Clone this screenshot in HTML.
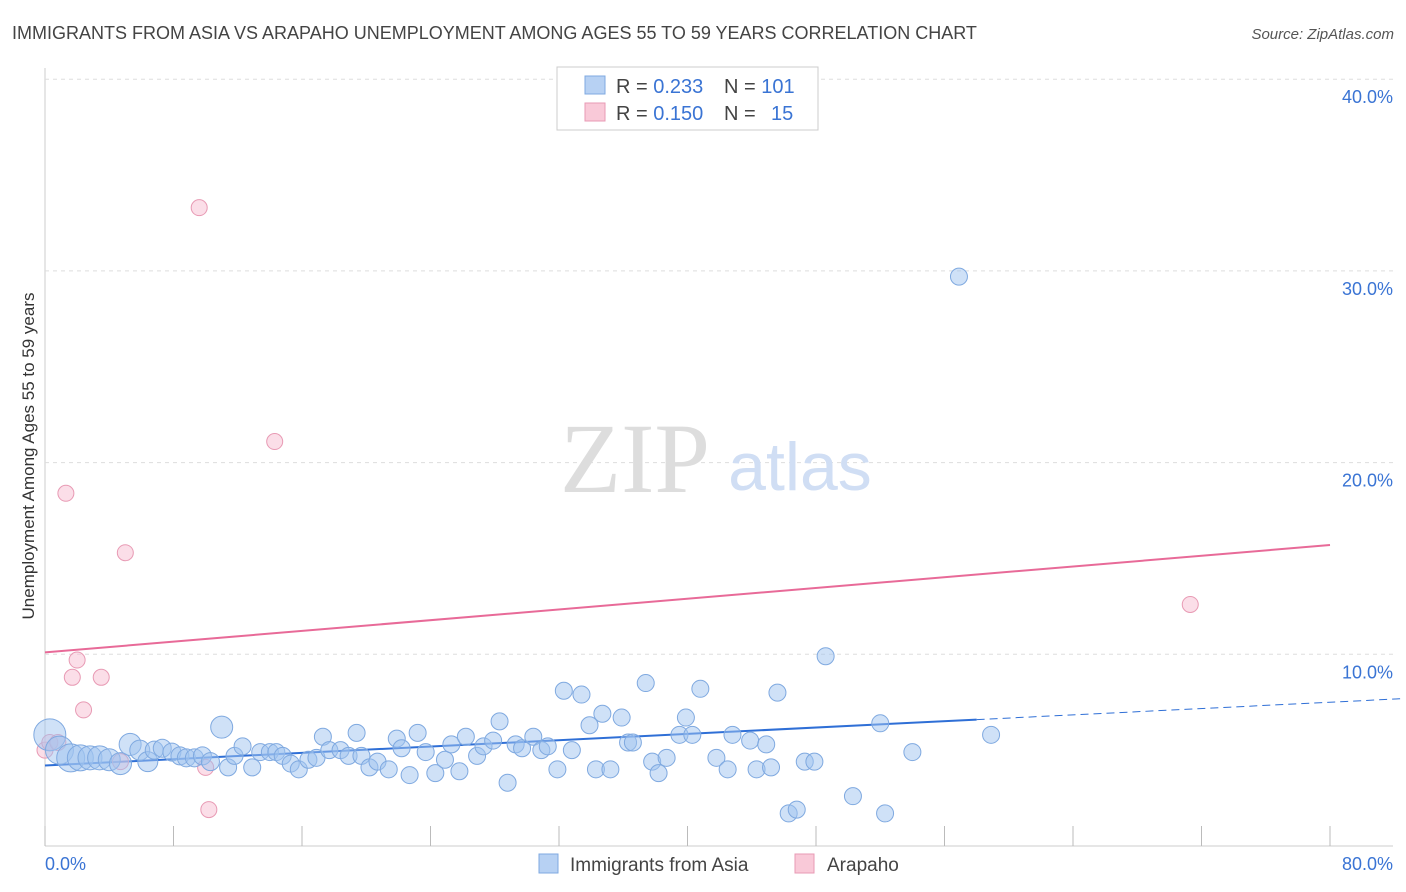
<!DOCTYPE html>
<html><head><meta charset="utf-8"><style>
body{margin:0;background:#fff;font-family:"Liberation Sans",sans-serif;}
svg{display:block}
</style></head><body>
<svg id="chart" width="1406" height="892">
<text x="12" y="39" font-size="18" fill="#444">IMMIGRANTS FROM ASIA VS ARAPAHO UNEMPLOYMENT AMONG AGES 55 TO 59 YEARS CORRELATION CHART</text>
<text x="1394" y="39" font-size="15" fill="#555" font-style="italic" text-anchor="end">Source: ZipAtlas.com</text>
<g id="grid"></g>
<text x="635" y="492" font-size="100" fill="#ddd" font-family="Liberation Serif,serif" text-anchor="middle">ZIP</text>
<text x="800" y="490" font-size="68" fill="#d0def4" text-anchor="middle">atlas</text>
<g id="lines"></g>
<g id="points"></g>
<text transform="translate(34,456) rotate(-90)" font-size="17" fill="#333" text-anchor="middle">Unemployment Among Ages 55 to 59 years</text>
<text x="45" y="870" font-size="18" fill="#3a74d4">0.0%</text>
<text x="1393" y="870" font-size="18" fill="#3a74d4" text-anchor="end">80.0%</text>
<g>
<rect x="557" y="67" width="261" height="63" fill="#fff" stroke="#ccc"/>
<rect x="585" y="76" width="20" height="18" fill="#b7d1f3" stroke="#7fa9e0"/>
<rect x="585" y="103" width="20" height="18" fill="#f9c9d8" stroke="#e89ab4"/>
<text x="616" y="93" font-size="20" fill="#444">R = <tspan fill="#3a74d4">0.233</tspan><tspan x="724">N = </tspan><tspan fill="#3a74d4">101</tspan></text>
<text x="616" y="120" font-size="20" fill="#444">R = <tspan fill="#3a74d4">0.150</tspan><tspan x="724">N = </tspan><tspan x="771" fill="#3a74d4">15</tspan></text>
</g>
<g>
<rect x="539" y="854" width="19" height="19" fill="#b7d1f3" stroke="#7fa9e0"/>
<text x="570" y="871" font-size="19" fill="#444">Immigrants from Asia</text>
<rect x="795" y="854" width="19" height="19" fill="#f9c9d8" stroke="#e89ab4"/>
<text x="827" y="871" font-size="19" fill="#444">Arapaho</text>
</g>
</svg>
<script>
const yTicks=[10,20,30,40];
const yTickLabels=["10.0%","20.0%","30.0%","40.0%"];
const xTicks=[0,8,16,24,32,40,48,56,64,72,80];
const blueX=[0.3,0.9,1.6,2.2,2.8,3.4,4.0,4.7,5.3,5.9,6.4,6.8,7.3,7.9,8.4,8.8,9.3,9.8,10.3,11.0,11.4,11.8,12.3,12.9,13.4,14.0,14.4,14.8,15.3,15.8,16.4,16.9,17.3,17.7,18.4,18.9,19.4,19.7,20.2,20.7,21.4,21.9,22.2,22.7,23.2,23.7,24.3,24.9,25.3,25.8,26.2,26.9,27.3,27.9,28.3,28.8,29.3,29.7,30.4,30.9,31.3,31.9,32.3,32.8,33.4,33.9,34.3,34.7,35.2,35.9,36.3,36.6,37.4,37.8,38.2,38.7,39.5,39.9,40.3,40.8,41.8,42.5,42.8,43.9,44.3,44.9,45.2,45.6,46.3,46.8,47.3,47.9,48.6,50.3,52.0,52.3,54.0,56.9,58.9];
const blueY=[5.8,5.0,4.6,4.6,4.6,4.6,4.5,4.3,5.3,5.0,4.4,5.0,5.1,4.9,4.7,4.6,4.6,4.7,4.4,6.2,4.1,4.7,5.2,4.1,4.9,4.9,4.9,4.7,4.3,4.0,4.5,4.6,5.7,5.0,5.0,4.7,5.9,4.7,4.1,4.4,4.0,5.6,5.1,3.7,5.9,4.9,3.8,4.5,5.3,3.9,5.7,4.7,5.2,5.5,6.5,3.3,5.3,5.1,5.7,5.0,5.2,4.0,8.1,5.0,7.9,6.3,4.0,6.9,4.0,6.7,5.4,5.4,8.5,4.4,3.8,4.6,5.8,6.7,5.8,8.2,4.6,4.0,5.8,5.5,4.0,5.3,4.1,8.0,1.7,1.9,4.4,4.4,9.9,2.6,6.4,1.7,4.9,29.7,5.8];
const blueSize=[16,14,14,13,12,12,11,11,11,10,10,9,9,9,9,9,9,9,9,11,8.5,8.5,8.5,8.5,8.5,8.5,8.5,8.5,8.5,8.5,8.5,8.5,8.5,8.5,8.5,8.5,8.5,8.5,8.5,8.5,8.5,8.5,8.5,8.5,8.5,8.5,8.5,8.5,8.5,8.5,8.5,8.5,8.5,8.5,8.5,8.5,8.5,8.5,8.5,8.5,8.5,8.5,8.5,8.5,8.5,8.5,8.5,8.5,8.5,8.5,8.5,8.5,8.5,8.5,8.5,8.5,8.5,8.5,8.5,8.5,8.5,8.5,8.5,8.5,8.5,8.5,8.5,8.5,8.5,8.5,8.5,8.5,8.5,8.5,8.5,8.5,8.5,8.5,8.5];
const pinkX=[0.0,0.3,0.8,1.3,1.7,2.0,2.4,3.5,4.7,5.0,9.6,10.0,10.2,14.3,71.3];
const pinkY=[5.0,5.4,5.4,18.4,8.8,9.7,7.1,8.8,4.4,15.3,33.3,4.1,1.9,21.1,12.6];
const blueFit=[4.2,7.5], blueSolidEnd=58, pinkFit=[10.1,15.7];
const NS="http://www.w3.org/2000/svg";
const X=v=>45+v/80*1285, Y=v=>846-v*19.17;
function mk(t,a,p){const e=document.createElementNS(NS,t);for(const k in a)e.setAttribute(k,a[k]);p.appendChild(e);return e;}
const grid=document.getElementById('grid');
mk('line',{x1:45,y1:68,x2:45,y2:846,stroke:'#ccc'},grid);
mk('line',{x1:45,y1:846,x2:1393,y2:846,stroke:'#ccc'},grid);
yTicks.forEach((t,i)=>{
 const l=mk('line',{x1:45,y1:Y(t),x2:1393,y2:Y(t),stroke:'#ddd','stroke-dasharray':'4,4'},grid);
 
 
 const tx=mk('text',{x:1393,y:Y(t)+24,'font-size':18,fill:'#3a74d4','text-anchor':'end'},grid);
 tx.textContent=yTickLabels[i];
 
 
});
xTicks.forEach(t=>{
 const l=mk('line',{x1:X(t),y1:826,x2:X(t),y2:846,stroke:'#bbb'},grid);
 
 
});
const pts=document.getElementById('points');
pinkX.forEach((x,i)=>{
 const c=mk('circle',{cx:X(x),cy:Y(pinkY[i]),r:8,fill:'rgba(248,190,210,0.5)',stroke:'#e89ab4','stroke-width':1},pts);
 
 
});
blueX.forEach((x,i)=>{
 const c=mk('circle',{cx:X(x),cy:Y(blueY[i]),r:blueSize[i],fill:'rgba(160,196,240,0.5)',stroke:'#7fa9e0','stroke-width':1},pts);
 
 
});
const ln=document.getElementById('lines');
const fb=x=>blueFit[0]+(blueFit[1]-blueFit[0])*x/80;
let a=mk('line',{x1:X(0),y1:Y(fb(0)),x2:X(blueSolidEnd),y2:Y(fb(blueSolidEnd)),stroke:'#2f6fd6','stroke-width':2},ln);


a=mk('line',{x1:X(blueSolidEnd),y1:Y(fb(blueSolidEnd)),x2:X(84.5),y2:Y(fb(84.5)),stroke:'#2f6fd6','stroke-width':1,'stroke-dasharray':'8,5'},ln);


a=mk('line',{x1:X(0),y1:Y(pinkFit[0]),x2:X(80),y2:Y(pinkFit[1]),stroke:'#e86a98','stroke-width':2},ln);


</script>
</body></html>
